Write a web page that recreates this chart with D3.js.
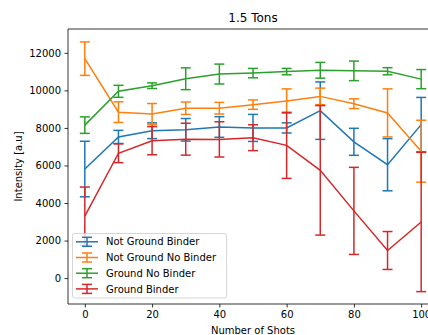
<!DOCTYPE html>
<html>
<head>
<meta charset="utf-8">
<script src="https://cdn.jsdelivr.net/npm/d3@7"></script>
<style>
html,body{margin:0;padding:0;background:#fff;overflow:hidden;}
svg{display:block;font-family:"DejaVu Sans",sans-serif;}
</style>
</head>
<body>
<svg id="chart" width="428" height="335"></svg>
<script>
const title = "1.5 Tons";
const xLabel = "Number of Shots";
const yLabel = "Intensity [a.u]";
const shots = [0, 10, 20, 30, 40, 50, 60, 70, 80, 90, 100];
const seriesNames = ["Not Ground Binder", "Not Ground No Binder", "Ground No Binder", "Ground Binder"];
const seriesColors = ["#1f77b4", "#ff7f0e", "#2ca02c", "#d62728"];
const notGroundBinder      = [5810, 7520, 7850, 7900, 8050, 8000, 8000, 8920, 7260, 6040, 8175];
const notGroundBinderErr   = [1480, 350, 420, 600, 550, 720, 270, 1530, 720, 1390, 1450];
const notGroundNoBinder    = [11690, 8840, 8740, 9050, 9050, 9240, 9430, 9680, 9290, 8800, 6760];
const notGroundNoBinderErr = [890, 550, 560, 330, 310, 250, 650, 440, 260, 1280, 1650];
const groundNoBinder       = [8150, 9950, 10250, 10620, 10870, 10920, 11000, 11070, 11040, 11020, 10600];
const groundNoBinderErr    = [440, 320, 150, 580, 530, 250, 170, 420, 520, 190, 510];
const groundBinder         = [3300, 6650, 7320, 7400, 7390, 7480, 7070, 5740, 3580, 1470, 2990];
const groundBinderErr      = [1550, 500, 750, 850, 940, 690, 1760, 3450, 2320, 1010, 3710];
const xTicks = [0, 20, 40, 60, 80, 100];
const yTicks = [0, 2000, 4000, 6000, 8000, 10000, 12000];

const series = [
  {name: seriesNames[0], color: seriesColors[0], v: notGroundBinder, e: notGroundBinderErr},
  {name: seriesNames[1], color: seriesColors[1], v: notGroundNoBinder, e: notGroundNoBinderErr},
  {name: seriesNames[2], color: seriesColors[2], v: groundNoBinder, e: groundNoBinderErr},
  {name: seriesNames[3], color: seriesColors[3], v: groundBinder, e: groundBinderErr}
];

const svg = d3.select("#chart");
const L = 68, T = 29, R = 438, B = 304;
const x = d3.scaleLinear().domain([-5, 105]).range([L, R]);
const y = d3.scaleLinear().domain([-1380, 13270]).range([B, T]);

const plot = svg.append("g");
const capW = 5;

series.forEach(s => {
  const g = plot.append("g");
  const line = d3.line().x((d, i) => x(shots[i])).y(d => y(d));
  g.append("path").datum(s.v).attr("d", line)
    .attr("fill", "none").attr("stroke", s.color).attr("stroke-width", 1.5);
  shots.forEach((sx, i) => {
    const cx = x(sx), y1 = y(s.v[i] + s.e[i]), y2 = y(s.v[i] - s.e[i]);
    g.append("line").attr("x1", cx).attr("x2", cx).attr("y1", y1).attr("y2", y2)
      .attr("stroke", s.color).attr("stroke-width", 1.5);
    [y1, y2].forEach(yy => {
      g.append("line").attr("x1", cx - capW).attr("x2", cx + capW).attr("y1", yy).attr("y2", yy)
        .attr("stroke", s.color).attr("stroke-width", 1.5);
    });
  });
});

// axes spines
svg.append("line").attr("x1", L).attr("x2", L).attr("y1", T).attr("y2", B).attr("stroke", "#000").attr("stroke-width", 0.8);
svg.append("line").attr("x1", L).attr("x2", R).attr("y1", B).attr("y2", B).attr("stroke", "#000").attr("stroke-width", 0.8);
svg.append("line").attr("x1", L).attr("x2", R).attr("y1", T).attr("y2", T).attr("stroke", "#000").attr("stroke-width", 0.8);
svg.append("line").attr("x1", R).attr("x2", R).attr("y1", T).attr("y2", B).attr("stroke", "#000").attr("stroke-width", 0.8);

const xAxis = d3.axisBottom(x).tickValues(xTicks).tickSize(3.5).tickPadding(3.5).tickFormat(d3.format("d"));
const gx = svg.append("g").attr("transform", `translate(0,${B})`).call(xAxis);
const yAxis = d3.axisLeft(y).tickValues(yTicks).tickSize(3.5).tickPadding(3.5).tickFormat(d3.format("d"));
const gy = svg.append("g").attr("transform", `translate(${L},0)`).call(yAxis);
[gx, gy].forEach(g => {
  g.select(".domain").remove();
  g.selectAll(".tick line").attr("stroke", "#000").attr("stroke-width", 0.8);
  g.selectAll(".tick text").attr("fill", "#000").style("font-size", "10px").style("font-family", "DejaVu Sans");
});

svg.append("text").attr("x", (L + R) / 2).attr("y", 22).attr("text-anchor", "middle")
  .style("font-size", "12px").text(title);
svg.append("text").attr("x", (L + R) / 2).attr("y", 334).attr("text-anchor", "middle")
  .style("font-size", "10px").text(xLabel);
svg.append("text").attr("transform", `translate(21.5,${(T + B) / 2}) rotate(-90)`).attr("text-anchor", "middle")
  .style("font-size", "10px").text(yLabel);

// legend
const lg = svg.append("g");
lg.append("rect").attr("x", 72.5).attr("y", 233.5).attr("width", 154).attr("height", 64.5).attr("rx", 2)
  .attr("fill", "#fff").attr("fill-opacity", 0.8).attr("stroke", "#ccc").attr("stroke-width", 0.8);
series.forEach((s, i) => {
  const ry = 241.8 + i * 15.7;
  lg.append("line").attr("x1", 76).attr("x2", 98).attr("y1", ry).attr("y2", ry).attr("stroke", s.color).attr("stroke-width", 1.5);
  lg.append("line").attr("x1", 87).attr("x2", 87).attr("y1", ry - 4.5).attr("y2", ry + 4.5).attr("stroke", s.color).attr("stroke-width", 1.5);
  [ry - 4.5, ry + 4.5].forEach(yy => lg.append("line").attr("x1", 87 - capW).attr("x2", 87 + capW)
    .attr("y1", yy).attr("y2", yy).attr("stroke", s.color).attr("stroke-width", 1.5));
  lg.append("text").attr("x", 106).attr("y", ry + 3.6).style("font-size", "10px").text(s.name);
});
</script>
</body>
</html>
